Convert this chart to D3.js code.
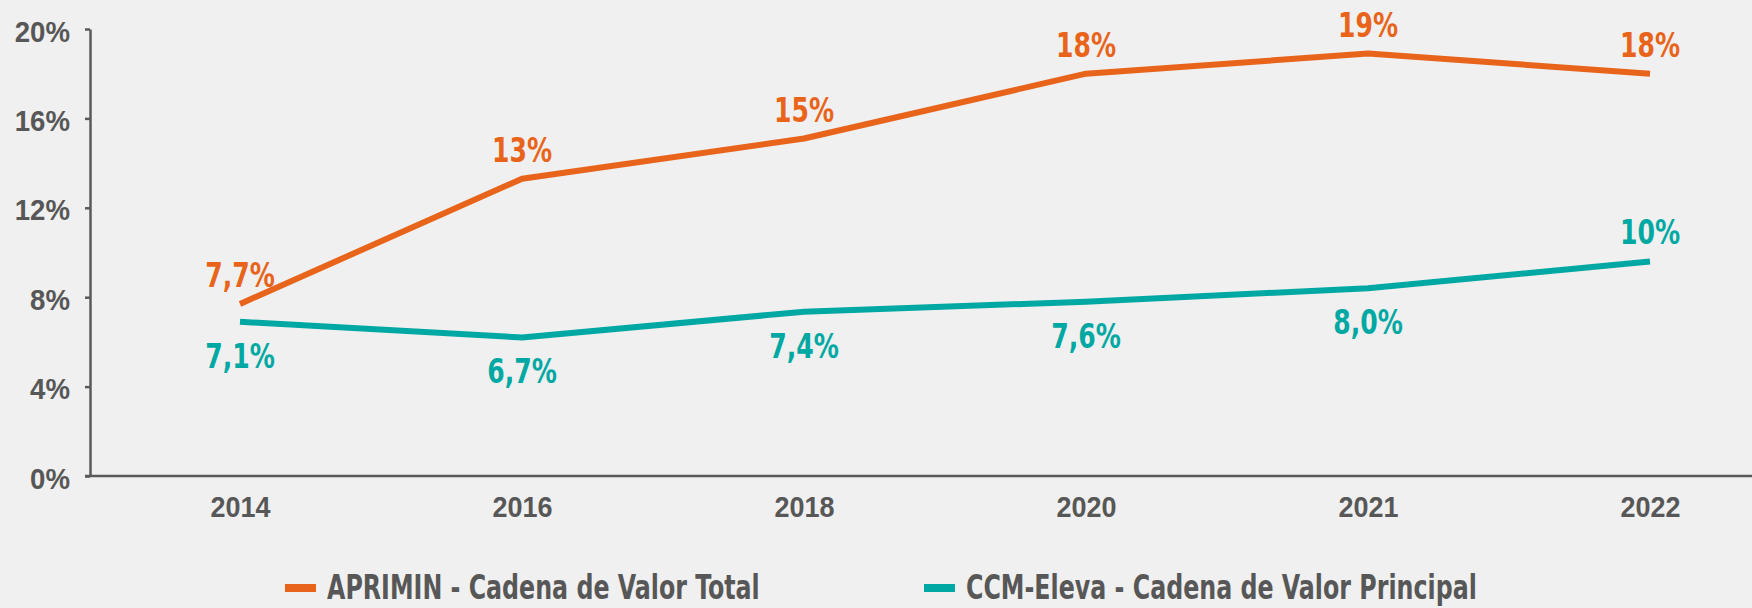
<!DOCTYPE html>
<html lang="es">
	<head>
		<meta charset="utf-8">
		<title>APRIMIN vs CCM-Eleva</title>
		<style>
			html, body {
				margin: 0;
				padding: 0;
				background: #f0f0f0;
			}
			#graph {
				display: block;
				font-family: "Liberation Sans Narrow", "DejaVu Sans Condensed", "Arial Narrow", sans-serif;
				font-weight: bold;
			}
			#graph .axis path,
			#graph .axis line {
				stroke: #5a5a5a;
				stroke-width: 2.5;
			}
			#graph .axis text {
				fill: #575757;
				font-family: inherit;
				font-weight: bold;
			}
		</style>
	</head>
	<body>

		<svg id="graph" width="1752" height="608"></svg>

		<script src="https://d3js.org/d3.v7.min.js"></script>
		<script>
			"use strict";

			// datos
			var years = ["2014", "2016", "2018", "2020", "2021", "2022"];
			var aprimin = [7.7, 13.3, 15.1, 18.0, 18.9, 18.0];
			var ccmEleva = [6.9, 6.2, 7.35, 7.8, 8.4, 9.6];
			var apriminLabels = ["7,7%", "13%", "15%", "18%", "19%", "18%"];
			var ccmLabels = ["7,1%", "6,7%", "7,4%", "7,6%", "8,0%", "10%"];
			var yTicks = [0, 4, 8, 12, 16, 20];
			var seriesNames = ["APRIMIN - Cadena de Valor Total", "CCM-Eleva - Cadena de Valor Principal"];

			var W = 1752, H = 608;
			var orange = "#e8641b", teal = "#00a8a3";

			var svg = d3.select("#graph");

			// la fuente disponible es más ancha que la original: se estrecha
			function squeeze(sel, f){
				sel.each(function(){
					var w = this.getComputedTextLength();
					d3.select(this)
						.attr("textLength", w * f)
						.attr("lengthAdjust", "spacingAndGlyphs");
				});
			}

			var x = d3.scalePoint().domain(years).range([240, 1650]);
			var y = d3.scaleLinear().domain([0, 20]).range([476, 29]);

			// eje Y
			var yAxis = svg.append("g")
				.attr("class", "axis")
				.attr("transform", "translate(90,0)")
				.call(d3.axisLeft(y).tickValues(yTicks).tickSize(5).tickSizeOuter(0).tickPadding(15)
					.tickFormat(function(d){ return d + "%"; }));
			yAxis.selectAll("text")
				.attr("dy", "12")
				.style("font-size", "30px")
				.call(squeeze, 0.92);

			// eje X
			var xAxis = svg.append("g")
				.attr("class", "axis")
				.attr("transform", "translate(0,476)")
				.call(d3.axisBottom(x).tickSize(0).tickPadding(0));
			xAxis.select(".domain").remove();
			xAxis.selectAll("text")
				.attr("dy", "41")
				.style("font-size", "29px")
				.call(squeeze, 0.93);
			svg.append("line")
				.attr("x1", 85).attr("x2", W)
				.attr("y1", y(0)).attr("y2", y(0))
				.attr("stroke", "#5a5a5a")
				.attr("stroke-width", 2.5);

			var line = d3.line()
				.x(function(d, i){ return x(years[i]); })
				.y(function(d){ return y(d); });

			var series = [
				{ values: aprimin, labels: apriminLabels, color: orange },
				{ values: ccmEleva, labels: ccmLabels, color: teal }
			];

			series.forEach(function(s, k){
				svg.append("path")
					.datum(s.values)
					.attr("fill", "none")
					.attr("stroke", s.color)
					.attr("stroke-width", 6)
					.attr("stroke-linejoin", "round")
					.attr("d", line);

				svg.append("g")
					.selectAll("text")
					.data(s.values)
					.enter()
					.append("text")
					.attr("x", function(d, i){ return x(years[i]); })
					.attr("y", function(d, i){
						// naranja arriba; turquesa abajo salvo el último
						if (k === 0 || i === s.values.length - 1) return y(d) - 17;
						return y(d) + 46;
					})
					.attr("text-anchor", "middle")
					.attr("fill", s.color)
					.style("font-size", "34px")
					.text(function(d, i){ return s.labels[i]; })
					.call(squeeze, 0.82);
			});

			// leyenda
			var legendX = [285, 924];
			var legend = svg.append("g")
				.selectAll("g")
				.data(seriesNames)
				.enter()
				.append("g")
				.attr("transform", function(d, i){ return "translate(" + legendX[i] + ",0)"; });
			legend.append("rect")
				.attr("x", 0).attr("y", 584)
				.attr("width", 31).attr("height", 8)
				.attr("fill", function(d, i){ return series[i].color; });
			legend.append("text")
				.attr("x", 42).attr("y", 599)
				.attr("fill", "#575757")
				.style("font-size", "33px")
				.text(function(d){ return d; })
				.call(squeeze, 0.8);
		</script>
	</body>
</html>
